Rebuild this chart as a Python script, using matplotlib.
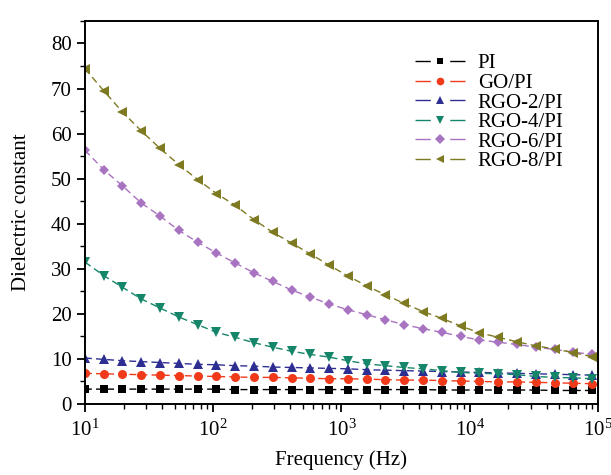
import numpy as np
import matplotlib
matplotlib.use("Agg")
import matplotlib.pyplot as plt
from matplotlib.lines import Line2D
from matplotlib.ticker import MultipleLocator, LogLocator, NullFormatter

plt.rcParams['font.family'] = ['Liberation Serif', 'DejaVu Serif']
plt.rcParams['mathtext.fontset'] = 'custom'
plt.rcParams['mathtext.rm'] = 'Liberation Serif'
plt.rcParams['mathtext.it'] = 'Liberation Serif:italic'

# frequency sweep (Hz)
freq = [10, 14.0, 19.6, 27.5, 38.5, 54, 75.6, 106, 148, 208, 291, 408, 572, 801,
        1122, 1573, 2204, 3089, 4329, 6067, 8502, 11915, 16697, 23400, 32793,
        45956, 64402, 90253]

pi = [3.3, 3.3, 3.3, 3.3, 3.3, 3.3, 3.3, 3.3, 3.2, 3.2, 3.2, 3.2, 3.2, 3.2,
      3.2, 3.2, 3.2, 3.2, 3.2, 3.1, 3.1, 3.1, 3.1, 3.1, 3.1, 3.0, 3.0, 3.0]
go_pi = [6.8, 6.7, 6.6, 6.5, 6.4, 6.3, 6.2, 6.1, 6.0, 5.9, 5.9, 5.8, 5.7, 5.6,
         5.6, 5.5, 5.4, 5.3, 5.3, 5.2, 5.1, 5.0, 4.9, 4.9, 4.8, 4.7, 4.6, 4.5]
rgo2 = [10.2, 9.9, 9.6, 9.4, 9.2, 9.0, 8.8, 8.7, 8.5, 8.4, 8.2, 8.1, 8.0, 7.9,
        7.8, 7.6, 7.5, 7.4, 7.3, 7.2, 7.1, 7.0, 6.9, 6.8, 6.7, 6.6, 6.5, 6.4]
rgo4 = [31.5, 28.5, 25.9, 23.3, 21.3, 19.3, 17.6, 15.9, 14.8, 13.6, 12.6, 11.7,
        11.0, 10.4, 9.6, 8.9, 8.5, 8.1, 7.8, 7.4, 7.0, 6.8, 6.7, 6.5, 6.1, 5.9,
        5.8, 5.6]
rgo6 = [56.3, 52.0, 48.4, 44.6, 41.7, 38.5, 35.9, 33.5, 31.3, 29.1, 27.2, 25.3,
        23.7, 22.2, 20.9, 19.8, 18.7, 17.6, 16.7, 15.9, 15.0, 14.2, 13.7, 13.2,
        12.6, 12.1, 11.5, 11.0]
rgo8 = [74.4, 69.5, 64.8, 60.6, 56.7, 53.1, 49.8, 46.7, 44.1, 40.9, 38.1, 35.7,
        33.3, 30.8, 28.4, 26.2, 24.2, 22.3, 20.5, 19.0, 17.3, 15.8, 14.8, 13.8,
        12.9, 12.2, 11.4, 10.5]

labels = ["PI", "GO/PI", "RGO-2/PI", "RGO-4/PI", "RGO-6/PI", "RGO-8/PI"]
series = [pi, go_pi, rgo2, rgo4, rgo6, rgo8]
colors = ["#000000", "#f03a1a", "#2e2e92", "#16866a", "#a873c0", "#7e7a22"]
markers = ["s", "o", "^", "v", "D", "<"]
msizes = [5.5, 6.5, 7, 7, 5.5, 7]

fig = plt.figure(figsize=(6.11, 4.75), dpi=100)
ax = fig.add_axes([0.139, 0.1495, 0.8397, 0.8065])

handles = []
for y, lab, c, m, ms in zip(series, labels, colors, markers, msizes):
    ax.plot(freq, y, linestyle=(0, (5, 3)), lw=1.0, color=c, marker=m,
            markersize=ms, markeredgewidth=0)
    # legend proxy: short line, gap, marker, gap, short line
    handles.append(Line2D([], [], linestyle=(0, (11, 14)), lw=1.0, color=c,
                          marker=m, markersize=ms * 0.85, markeredgewidth=0,
                          label=lab))

ax.set_xscale('log')
ax.set_xlim(10, 1e5)
ax.set_ylim(0, 85)
ax.yaxis.set_major_locator(MultipleLocator(10))
ax.yaxis.set_minor_locator(MultipleLocator(5))
ax.xaxis.set_minor_locator(LogLocator(base=10, subs=np.arange(2, 10)))
ax.xaxis.set_minor_formatter(NullFormatter())

ax.tick_params(axis='both', which='major', direction='out', length=6, width=1.3,
               labelsize=15, top=False, right=False)
ax.tick_params(axis='both', which='minor', direction='out', length=3.5, width=1.0,
               top=False, right=False)
ax.tick_params(axis='x', which='major', pad=5)
for s in ax.spines.values():
    s.set_linewidth(1.4)

ax.set_xlabel("Frequency (Hz)", fontsize=15)
ax.set_ylabel("Dielectric constant", fontsize=15)
ax.xaxis.set_label_coords(0.5, -0.12)
ax.yaxis.set_label_coords(-0.105, 0.5)

ax.legend(handles=handles, loc='upper left', bbox_to_anchor=(0.606, 0.963),
          frameon=False, fontsize=15, handlelength=2.4, labelspacing=0.0,
          handletextpad=0.63)

fig.savefig("out.png", dpi=100)
